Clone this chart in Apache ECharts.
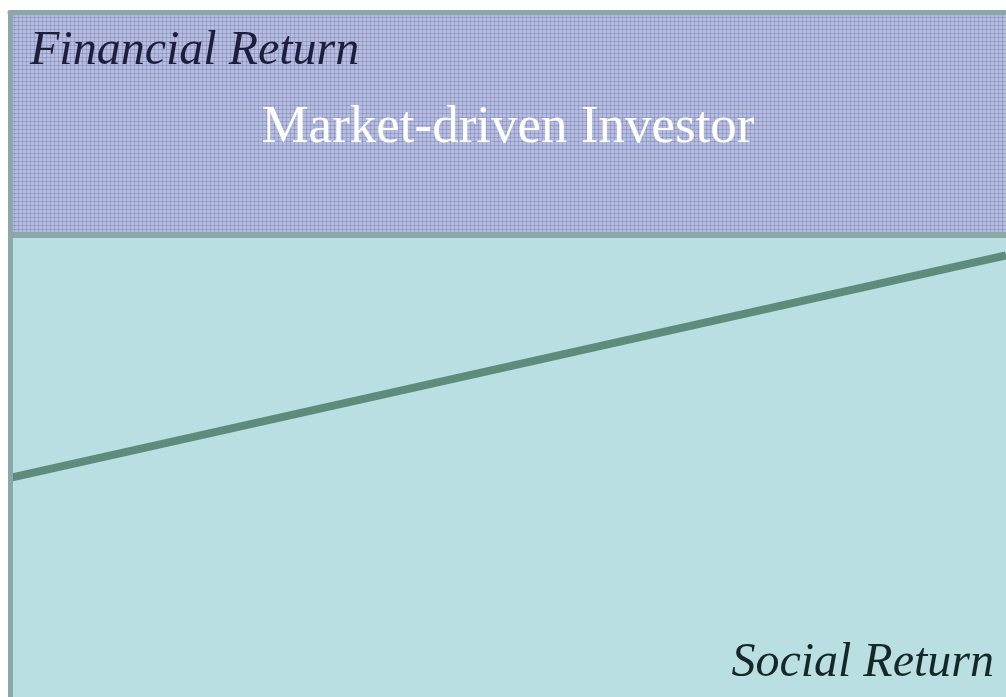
<!DOCTYPE html>
<html>
<head>
<meta charset="utf-8">
<title>Market-driven Investor</title>
<script src="https://cdn.jsdelivr.net/npm/echarts@6/dist/echarts.min.js"></script>
<style>
    html, body { margin: 0; padding: 0; background: #ffffff; }
    #chart { width: 1006px; height: 697px; }
</style>
</head>
<body>
<div id="chart"></div>
<script>
    // axis extents (abstract 0-100 scale)
    var xRange = [0, 100];
    var yRange = [0, 100];

    // the investor trade-off line: social return (x) vs financial return (y)
    var lineX = [0, 100];
    var lineY = [32, 64.5];

    // the market-driven band sits above this financial-return level
    var bandFrom = 67.5;
    var bandLabel = 'Market-driven Investor';

    var axisNames = { y: 'Financial Return', x: 'Social Return' };

    var borderColor = '#8ca8a6';
    var serif = 'Liberation Serif';

    // small plaid tile for the band fill
    function plaid() {
        var c = document.createElement('canvas');
        c.width = 4; c.height = 4;
        var g = c.getContext('2d');
        g.fillStyle = '#b0c2da';
        g.fillRect(0, 0, 4, 4);
        g.fillStyle = '#a29cd3';
        g.fillRect(0, 1, 4, 1);
        g.fillRect(2, 0, 1, 4);
        g.fillStyle = '#8e86ca';
        g.fillRect(2, 1, 1, 1);
        return c;
    }

    var hiddenAxis = {
        z: 10,
        axisLine: { show: true, onZero: false, lineStyle: { color: borderColor, width: 5 } },
        axisTick: { show: false },
        axisLabel: { show: false },
        splitLine: { show: false }
    };

    var chart = echarts.init(document.getElementById('chart'));
    chart.setOption({
        animation: false,
        backgroundColor: '#ffffff',
        title: [
            {
                text: axisNames.y,
                left: 25,
                top: 22,
                textStyle: { fontFamily: serif, fontStyle: 'italic', fontWeight: 'normal', fontSize: 48, color: '#1e1e3c' }
            },
            {
                text: axisNames.x,
                right: 7,
                bottom: 5,
                textStyle: { fontFamily: serif, fontStyle: 'italic', fontWeight: 'normal', fontSize: 48, color: '#142828' }
            }
        ],
        grid: {
            left: 10,
            top: 12.5,
            right: 0,
            bottom: 0,
            show: true,
            backgroundColor: '#badfe2',
            borderWidth: 0,
            borderColor: 'transparent'
        },
        xAxis: Object.assign({ type: 'value', position: 'top', min: xRange[0], max: xRange[1] }, hiddenAxis),
        yAxis: Object.assign({ type: 'value', position: 'left', min: yRange[0], max: yRange[1] }, hiddenAxis),
        series: [
            {
                type: 'line',
                data: lineX.map(function (x, i) { return [x, lineY[i]]; }),
                symbol: 'none',
                lineStyle: { color: '#5e8b7c', width: 8 },
                markArea: {
                    silent: true,
                    itemStyle: { color: { image: plaid(), repeat: 'repeat' }, borderWidth: 0 },
                    label: {
                        position: 'inside',
                        offset: [0, 4],
                        fontFamily: serif,
                        fontSize: 53,
                        color: '#ffffff'
                    },
                    data: [[{ name: bandLabel, yAxis: bandFrom }, { yAxis: yRange[1] }]]
                },
                markLine: {
                    silent: true,
                    symbol: 'none',
                    label: { show: false },
                    lineStyle: { color: borderColor, width: 6, type: 'solid' },
                    data: [{ yAxis: bandFrom }]
                }
            }
        ]
    });
</script>
</body>
</html>
